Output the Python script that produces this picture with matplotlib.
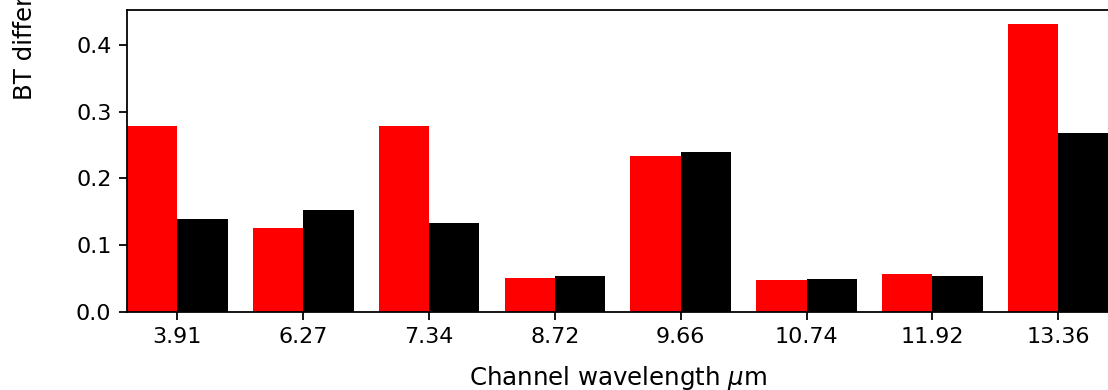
import numpy as np
import matplotlib
matplotlib.use("Agg")
import matplotlib.pyplot as plt

# Channel wavelengths (tick labels) and the two series of BT differences
wavelengths = ["3.91", "6.27", "7.34", "8.72", "9.66", "10.74", "11.92", "13.36"]
bt_diff_red = [0.278, 0.126, 0.278, 0.050, 0.234, 0.047, 0.057, 0.431]
bt_diff_black = [0.139, 0.153, 0.133, 0.054, 0.239, 0.049, 0.054, 0.268]

dpi = 160
fig = plt.figure(figsize=(1108 / dpi, 390 / dpi), dpi=dpi)
ax = fig.add_axes([0.1146, 0.2008, 0.886, 0.7736])

x = np.arange(len(wavelengths))
width = 0.4
ax.bar(x - width / 2, bt_diff_red, width, color="red")
ax.bar(x + width / 2, bt_diff_black, width, color="black")

ax.set_xticks(x)
ax.set_xticklabels(wavelengths)
ax.set_xlim(-0.4, len(wavelengths) - 0.6)
ax.set_yticks([0.0, 0.1, 0.2, 0.3, 0.4])
ax.set_xlabel(r"Channel wavelength $\mu$m", fontsize=11, labelpad=7.5)

# y label sits higher than the axes centre, so its upper part is clipped
fig.text(0.0217, 0.7436, "BT difference (K)", rotation=90,
         ha="center", va="bottom", fontsize=11)

fig.savefig("out.png", dpi=dpi)
